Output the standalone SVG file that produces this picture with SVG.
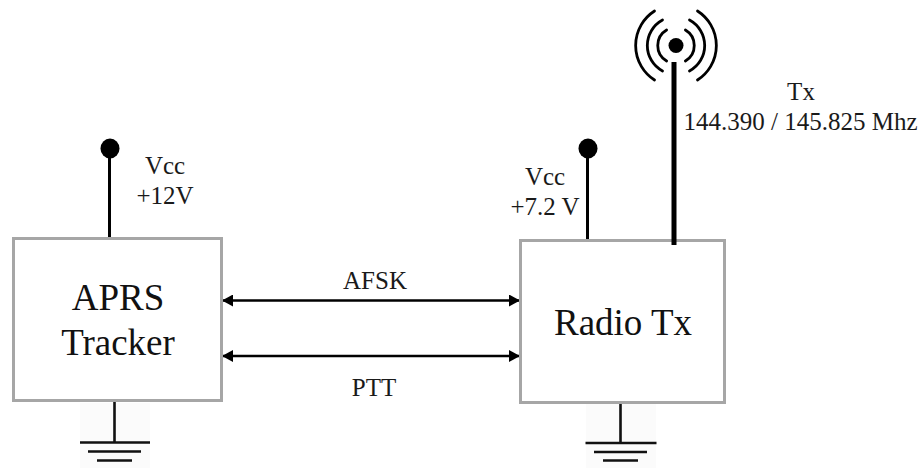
<svg xmlns="http://www.w3.org/2000/svg" width="920" height="468" viewBox="0 0 920 468">
<defs>
<marker id="ah" viewBox="0 0 11 12" refX="11" refY="6" markerWidth="11" markerHeight="12" markerUnits="userSpaceOnUse" orient="auto-start-reverse"><path d="M0 0L11 6L0 12Z" fill="#000"/></marker>
</defs>
<style>
.box{fill:#fff;stroke:#a6a6a6;stroke-width:3}
.big{font:37px "Liberation Serif",serif;fill:#111;text-anchor:middle}
.small{font:25px "Liberation Serif",serif;fill:#1a1a1a;text-anchor:middle}
.w{stroke:#000;fill:none}
.gnd{stroke:#111;stroke-width:2.6;fill:none}
.arc{stroke:#000;stroke-width:2.8;fill:none;stroke-linecap:round}
</style>
<rect width="920" height="468" fill="#fff"/>
<rect x="80" y="403" width="70" height="65" fill="#fbfbfb"/>
<rect x="586" y="404" width="70" height="64" fill="#fbfbfb"/>
<g id="connectors">
<path class="w" stroke-width="3" d="M109.500 148V238"/>
<path class="w" stroke-width="3" d="M587.500 148V240"/>
<path class="w" stroke-width="2.600" d="M222 300.500H520" marker-start="url(#ah)" marker-end="url(#ah)"/>
<path class="w" stroke-width="2.600" d="M222 356H520" marker-start="url(#ah)" marker-end="url(#ah)"/>
</g>
<g id="tracker"><rect class="box" x="13.500" y="238.500" width="208" height="162"/>
<text class="big" x="118" y="310">APRS</text><text class="big" x="118" y="355">Tracker</text></g>
<g id="radio"><rect class="box" x="520.500" y="240.500" width="204" height="162"/>
<text class="big" x="623" y="335">Radio Tx</text></g>
<g id="vcc1"><ellipse cx="110" cy="148.500" rx="9.500" ry="10"/><text class="small" x="165" y="174">Vcc</text><text class="small" x="165" y="204">+12V</text></g>
<g id="vcc2"><ellipse cx="588" cy="148.500" rx="9.500" ry="10"/><text class="small" x="545" y="185">Vcc</text><text class="small" x="545" y="215">+7.2 V</text></g>
<g id="antenna"><path class="w" stroke-width="5" d="M674 62V245"/><circle cx="676" cy="45.500" r="7.500"/>
<path class="arc" d="M666.600 30A18 18 0 0 0 666.600 61M685.400 30A18 18 0 0 1 685.400 61"/>
<path class="arc" d="M662.500 20A29 29 0 0 0 662.500 71M689.500 20A29 29 0 0 1 689.500 71"/>
<path class="arc" d="M654.500 11A41 41 0 0 0 654.500 80M697.500 11A41 41 0 0 1 697.500 80"/></g>
<g id="gnd1"><path class="gnd" d="M114.500 402V442M80 442.500H150M88 451.500H141M97 460.500H132"/></g>
<g id="gnd2"><path class="gnd" d="M620.500 404V443M585.500 443H656.500M594 452H647M603 460.500H638"/></g>
<text class="small" x="375" y="288.500">AFSK</text>
<text class="small" x="374" y="396">PTT</text>
<text class="small" x="801" y="100">Tx</text>
<text class="small" x="800.500" y="130">144.390 / 145.825 Mhz</text>
</svg>
